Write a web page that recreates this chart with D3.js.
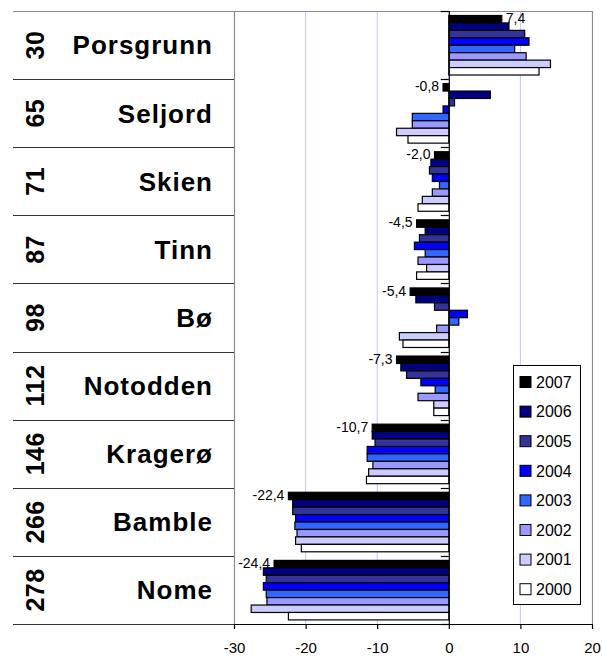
<!DOCTYPE html>
<html>
<head>
<meta charset="utf-8">
<script src="https://cdn.jsdelivr.net/npm/d3@7"></script>
<style>
  body { margin: 0; background: #fff; }
  text { font-family: "Liberation Sans", Arial, sans-serif; }
</style>
</head>
<body>
<div id="chart"></div>
<script>
// municipalities, top to bottom, with their rank
const names = ["Porsgrunn", "Seljord", "Skien", "Tinn", "Bø", "Notodden", "Kragerø", "Bamble", "Nome"];
const ranks = [30, 65, 71, 87, 98, 112, 146, 266, 278];

// years, drawn top to bottom inside each group
const years = ["2007", "2006", "2005", "2004", "2003", "2002", "2001", "2000"];
const colors = ["#000000", "#000080", "#333399", "#0000ff", "#3366ff", "#9999ff", "#ccccff", "#ffffff"];

// values per year (same order as names)
const v2007 = [7.4, -0.8, -2.0, -4.5, -5.4, -7.3, -10.7, -22.4, -24.4];
const v2006 = [8.4, 5.8, -2.5, -3.3, -4.6, -6.7, -10.7, -21.8, -25.9];
const v2005 = [10.6, 0.8, -2.7, -4.1, -2.0, -5.9, -10.3, -21.8, -25.5];
const v2004 = [11.2, -0.8, -2.3, -4.8, 2.6, -3.9, -11.4, -21.4, -25.9];
const v2003 = [9.2, -5.1, -1.3, -3.3, 1.4, -1.9, -11.4, -21.5, -25.5];
const v2002 = [10.8, -5.1, -2.3, -4.3, -1.7, -4.3, -10.6, -21.2, -25.4];
const v2001 = [14.2, -7.3, -3.7, -3.1, -6.9, -2.1, -11.2, -21.4, -27.6];
const v2000 = [12.6, -5.7, -4.3, -4.5, -6.4, -2.1, -11.5, -20.6, -22.4];
const series = [v2007, v2006, v2005, v2004, v2003, v2002, v2001, v2000];

// x ticks
const xTicks = [-30, -20, -10, 0, 10, 20];

const W = 603, H = 657;
const plot = {left: 234, right: 592, top: 11, bottom: 624};
const tableLeft = 13;

const svg = d3.select("#chart").append("svg")
  .attr("width", W)
  .attr("height", H);

const x = d3.scaleLinear()
  .domain([-30, 20])
  .range([plot.left, plot.right]);

const y = d3.scaleBand()
  .domain(names)
  .range([plot.top, plot.bottom]);

const bw = y.bandwidth();
const yInner = d3.scaleBand()
  .domain(years)
  .range([bw * 0.066, bw - bw * 0.06]);

const fmt = v => d3.format(".1f")(v).replace(".", ",").replace("−", "-");

// gridlines
svg.append("g")
  .selectAll("line")
  .data(xTicks.filter(t => t !== 0 && t !== -30 && t !== 20))
  .join("line")
  .attr("x1", d => x(d)).attr("x2", d => x(d))
  .attr("y1", plot.top).attr("y2", plot.bottom)
  .attr("stroke", "#c4c4ff")
  .attr("stroke-width", 1);

// plot border (top, right, left)
svg.append("path")
  .attr("d", `M${tableLeft},${plot.top + 0.5}H${plot.right + 0.5}V${plot.bottom}M${plot.left + 0.5},${plot.top}V${plot.bottom + 4}`)
  .attr("fill", "none")
  .attr("stroke", "#8c8c8c")
  .attr("stroke-width", 1.2);

// table separators
svg.append("g")
  .selectAll("line")
  .data(names.slice(1).map(n => y(n)).concat([plot.bottom]))
  .join("line")
  .attr("x1", tableLeft).attr("x2", plot.left)
  .attr("y1", d => Math.round(d) + 0.5).attr("y2", d => Math.round(d) + 0.5)
  .attr("stroke", "#333")
  .attr("stroke-width", 1.2);

// table text
const rows = svg.append("g")
  .selectAll("g")
  .data(names)
  .join("g")
  .attr("transform", d => `translate(0,${y(d) + bw / 2})`);

rows.append("text")
  .attr("transform", "translate(35,0) rotate(-90)")
  .attr("text-anchor", "middle")
  .attr("dy", "0.36em")
  .attr("font-size", 25)
  .attr("font-weight", "bold")
  .attr("letter-spacing", 0.5)
  .text((d, i) => ranks[i]);

rows.append("text")
  .attr("x", 213)
  .attr("dy", "0.36em")
  .attr("text-anchor", "end")
  .attr("font-size", 26)
  .attr("font-weight", "bold")
  .attr("letter-spacing", 1)
  .text(d => d);

// bars
const groups = svg.append("g")
  .selectAll("g")
  .data(years)
  .join("g")
  .attr("fill", (d, i) => colors[i]);

groups.selectAll("rect")
  .data((yr, j) => names.map((n, i) => ({name: n, year: yr, value: series[j][i]})))
  .join("rect")
  .attr("x", d => x(Math.min(0, d.value)))
  .attr("y", d => y(d.name) + yInner(d.year))
  .attr("width", d => Math.abs(x(d.value) - x(0)))
  .attr("height", yInner.bandwidth())
  .attr("stroke", "#000")
  .attr("stroke-width", 1.2);

// value labels for 2007
svg.append("g")
  .selectAll("text")
  .data(names.map((n, i) => ({name: n, value: v2007[i]})))
  .join("text")
  .attr("x", d => d.value >= 0 ? x(d.value) + 4 : x(d.value) - 4)
  .attr("y", d => y(d.name) + yInner("2007") + yInner.bandwidth() / 2 - 1)
  .attr("dy", "0.35em")
  .attr("text-anchor", d => d.value >= 0 ? "start" : "end")
  .attr("font-size", 14)
  .text(d => fmt(d.value));

// category axis at zero
const catAxis = svg.append("g").attr("stroke", "#000");
catAxis.append("line")
  .attr("x1", x(0) + 0.5).attr("x2", x(0) + 0.5)
  .attr("y1", plot.top).attr("y2", plot.bottom)
  .attr("stroke-width", 1.2);
catAxis.selectAll(".tk")
  .data(names.map(n => y(n)).concat([plot.bottom]))
  .join("line")
  .attr("class", "tk")
  .attr("x1", x(0) - 8).attr("x2", x(0))
  .attr("y1", d => Math.round(d) + 0.5).attr("y2", d => Math.round(d) + 0.5)
  .attr("stroke-width", 1.2);

// x axis
const xAxis = svg.append("g")
  .attr("transform", `translate(0,${plot.bottom})`)
  .call(d3.axisBottom(x).tickValues(xTicks).tickSize(5).tickSizeOuter(0).tickPadding(13).tickFormat(d => d3.format("d")(d).replace("−", "-")));
xAxis.select(".domain").attr("stroke", "#000").attr("stroke-width", 1.2);
xAxis.selectAll(".tick line").attr("stroke", "#000").attr("stroke-width", 1.2);
xAxis.selectAll(".tick text")
  .attr("font-size", 15)
  .attr("font-family", "Liberation Sans, Arial, sans-serif")
  .attr("fill", "#000");

// legend
const lg = {x: 513, y: 365, w: 67, h: 239, step: 29.6};
const legend = svg.append("g").attr("transform", `translate(${lg.x},${lg.y})`);
legend.append("rect")
  .attr("x", 0.5).attr("y", 0.5)
  .attr("width", lg.w).attr("height", lg.h)
  .attr("fill", "#fff")
  .attr("stroke", "#000");
const items = legend.selectAll("g.item")
  .data(years)
  .join("g")
  .attr("class", "item")
  .attr("transform", (d, i) => `translate(0,${17 + i * lg.step})`);
items.append("rect")
  .attr("x", 7).attr("y", -5.5)
  .attr("width", 11).attr("height", 11)
  .attr("fill", (d, i) => colors[i])
  .attr("stroke", "#000");
items.append("text")
  .attr("x", 23)
  .attr("dy", "0.36em")
  .attr("font-size", 16)
  .text(d => d);
</script>
</body>
</html>
